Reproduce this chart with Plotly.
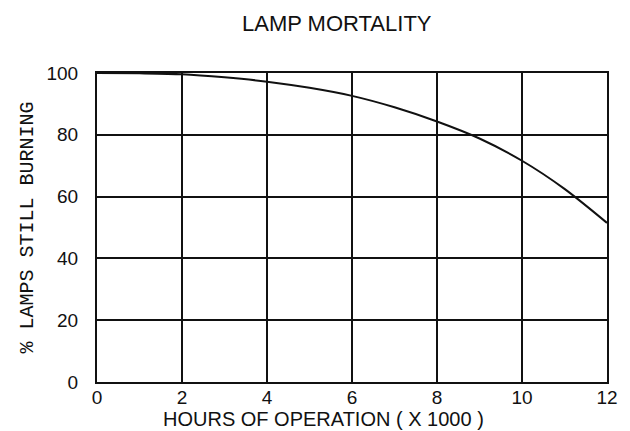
import plotly.graph_objects as go

hours = [0, 1, 2, 3, 4, 5, 6, 7, 8, 9, 10, 11, 12]
pct_burning = [100, 99.9, 99.6, 98.6, 97.2, 95.2, 92.6, 88.9, 84.3, 78.8, 71.6, 62.5, 51.5]
x_ticks = [0, 2, 4, 6, 8, 10, 12]
y_ticks = [0, 20, 40, 60, 80, 100]

title_text = "LAMP MORTALITY"
x_title = "HOURS OF OPERATION ( X 1000 )"
y_title = "% LAMPS STILL BURNING"

ink = "#111111"

fig = go.Figure()
fig.add_trace(go.Scatter(
    x=hours, y=pct_burning, mode="lines",
    line=dict(color=ink, width=2, shape="spline", smoothing=0.8),
    showlegend=False, hoverinfo="skip", cliponaxis=False,
))

axis_common = dict(
    showgrid=True, gridcolor=ink, gridwidth=2,
    showline=True, linecolor=ink, linewidth=2, mirror=True,
    zeroline=False, ticks="",
    tickfont=dict(family="Liberation Sans, Arial, sans-serif", size=19, color=ink),
)

fig.update_xaxes(range=[0, 12], tickvals=x_ticks, ticktext=[str(v) for v in x_ticks],
                 ticklabelstandoff=-3, **axis_common)
fig.update_yaxes(range=[0, 100], tickvals=y_ticks, ticktext=[str(v) for v in y_ticks],
                 ticklabelstandoff=13, **axis_common)

# The page body has an 8px default margin, so the figure is sized to fit inside it.
fig.update_layout(
    width=622, height=423,
    margin=dict(l=89, r=23, t=65, b=49, pad=0),
    paper_bgcolor="white", plot_bgcolor="white",
    font=dict(family="Liberation Sans, Arial, sans-serif", color=ink),
    annotations=[
        dict(text=title_text, xref="paper", yref="paper", x=0.47, y=1,
             yshift=50, xanchor="center", yanchor="middle", showarrow=False,
             font=dict(family="Liberation Sans, Arial, sans-serif", size=22, color=ink)),
        dict(text=x_title, xref="paper", yref="paper", x=0.445, y=0,
             yshift=-37, xanchor="center", yanchor="middle", showarrow=False,
             font=dict(family="Liberation Sans, Arial, sans-serif", size=20, color=ink)),
        dict(text=y_title, xref="paper", yref="paper", x=0, y=0.5,
             xshift=-70, xanchor="center", yanchor="middle", showarrow=False,
             textangle=-90,
             font=dict(family="Liberation Mono, Courier New, monospace", size=20, color=ink)),
    ],
)

fig.write_html("out.html")
